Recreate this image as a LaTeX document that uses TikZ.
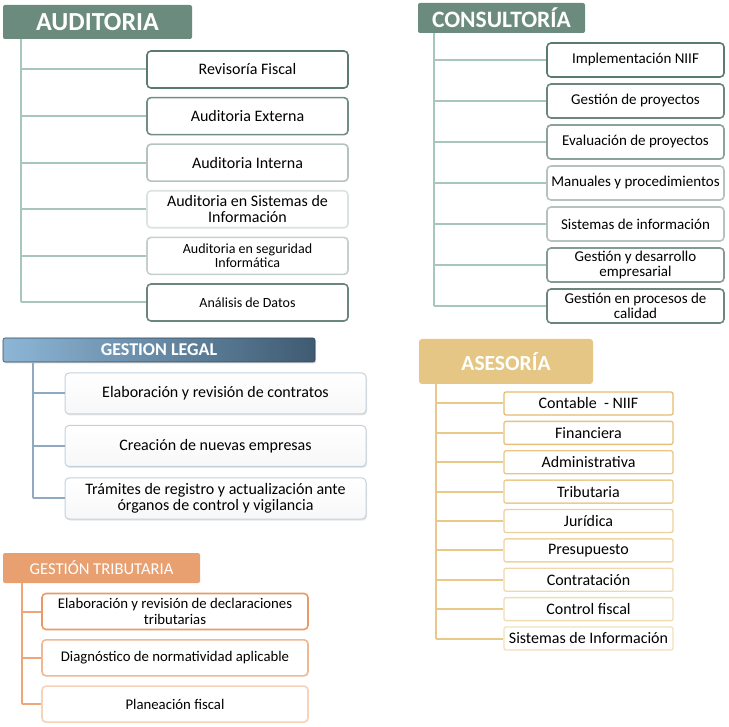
\documentclass[tikz,border=0pt]{standalone}
\usepackage{fontspec}
\setmainfont{Carlito}
\usetikzlibrary{shadows}
\definecolor{audhead}{HTML}{6B8B7F}
\definecolor{audline}{HTML}{A7C7BA}
\definecolor{audbox}{HTML}{5A7A6E}
\definecolor{legleft}{HTML}{8DB6D6}
\definecolor{legright}{HTML}{3F5B72}
\definecolor{legline}{HTML}{8FA9C1}
\definecolor{legbox}{HTML}{C3D1DE}
\definecolor{asehead}{HTML}{E5C684}
\definecolor{aseline}{HTML}{E8C98A}
\definecolor{asebox}{HTML}{E5BC70}
\definecolor{trihead}{HTML}{E9A070}
\definecolor{triline}{HTML}{EDA57A}
\definecolor{tribox}{HTML}{E99A66}
\tikzset{
  head/.style={rectangle, rounded corners=2pt, text=white, inner sep=0pt},
  item/.style={rectangle, rounded corners=4pt, line width=1.6pt, fill=white, align=center, inner sep=1pt, text=black},
  branch/.style={line width=2pt}
}
\begin{document}
\begin{tikzpicture}[x=1pt,y=-1pt]
\useasboundingbox (0,0) rectangle (729,727);
% auditoria
\node[head, fill=audhead, minimum width=189, minimum height=34, font=\fontsize{26}{26}\selectfont\bfseries] (hAud) at (97.5,22) {AUDITORIA};
\coordinate (vAud) at (21,39);
\foreach \t/\p/\s [count=\i] in {Revisoría Fiscal/100/16, Auditoria Externa/85/16, Auditoria Interna/45/16,
    Auditoria en Sistemas de\\Información/22/16, Auditoria en seguridad\\Informática/35/14, Análisis de Datos/90/14}{
  \node[item, draw=audbox!\p!white, minimum width=201, minimum height=37, font=\fontsize{\s}{\s}\selectfont] (aud\i) at (247.5,{69.5+(\i-1)*46.6}) {\t};
  \draw[branch, audline] (vAud |- aud\i.west) -- (aud\i.west);
}
\draw[branch, audline] (vAud) -- (vAud |- aud6.west);
% consultoria
\node[head, fill=audhead, minimum width=167, minimum height=30, font=\fontsize{23.5}{23.5}\selectfont\bfseries] (hCon) at (501.5,18) {CONSULTORÍA};
\coordinate (vCon) at (434,33);
\foreach \t/\p [count=\i] in {Implementación NIIF/100, Gestión de proyectos/90, Evaluación de proyectos/70,
    Manuales y procedimientos/45, Sistemas de información/45, Gestión y desarrollo\\empresarial/75, Gestión en procesos de\\calidad/90}{
  \node[item, draw=audbox!\p!white, minimum width=177, minimum height=34, font=\fontsize{15}{15.5}\selectfont] (con\i) at (635.5,{60+(\i-1)*41}) {\t};
  \draw[branch, audline] (vCon |- con\i.west) -- (con\i.west);
}
\draw[branch, audline] (vCon) -- (vCon |- con7.west);
% gestion legal
\node[head, left color=legleft, right color=legright, draw=legright!80!black, line width=0.6pt, drop shadow={opacity=0.3, shadow xshift=1pt, shadow yshift=-1.5pt},
  minimum width=312, minimum height=24, font=\fontsize{18}{18}\selectfont\bfseries] (hLeg) at (159,350) {GESTION LEGAL};
\coordinate (vLeg) at (33,362);
\foreach \t [count=\i] in {Elaboración y revisión de contratos, Creación de nuevas empresas,
    Trámites de registro y actualización ante\\órganos de control y vigilancia}{
  \node[item, draw=legbox, line width=1pt, top color=white, bottom color=gray!6, drop shadow={opacity=0.2, shadow xshift=1pt, shadow yshift=-1.5pt},
    minimum width=301, minimum height=41, font=\fontsize{16}{16.5}\selectfont] (leg\i) at (215.5,{393.5+(\i-1)*52.5}) {\t};
  \draw[branch, legline] (vLeg |- leg\i.west) -- (leg\i.west);
}
\draw[branch, legline] (vLeg) -- (vLeg |- leg3.west);
% asesoria
\node[head, fill=asehead, rounded corners=3pt, minimum width=174, minimum height=45, font=\fontsize{21.5}{21.5}\selectfont\bfseries] (hAse) at (506,361.5) {ASESORÍA};
\coordinate (vAse) at (436,384);
\foreach \t/\p [count=\i] in {Contable~~- NIIF/100, Financiera/92, Administrativa/85, Tributaria/78, Jurídica/70,
    Presupuesto/64, Contratación/58, Control fiscal/52, Sistemas de Información/48}{
  \node[item, draw=asebox!\p!white, line width=1.3pt, rounded corners=2pt, minimum width=169, minimum height=23, font=\fontsize{16}{16}\selectfont] (ase\i) at (588.5,{403.5+(\i-1)*29.375}) {\t};
  \draw[branch, aseline] (vAse |- ase\i.west) -- (ase\i.west);
}
\draw[branch, aseline] (vAse) -- (vAse |- ase9.west);
% gestion tributaria
\node[head, fill=trihead, minimum width=197, minimum height=30, font=\fontsize{16.6}{16.6}\selectfont] (hTri) at (101.5,568) {GESTIÓN TRIBUTARIA};
\coordinate (vTri) at (22,583);
\foreach \t/\p [count=\i] in {Elaboración y revisión de declaraciones\\tributarias/100, Diagnóstico de normatividad aplicable/70, Planeación fiscal/45}{
  \node[item, draw=tribox!\p!white, minimum width=266, minimum height=36, font=\fontsize{14.75}{15.5}\selectfont] (tri\i) at (175,{611.5+(\i-1)*46.3}) {\t};
  \draw[branch, triline] (vTri |- tri\i.west) -- (tri\i.west);
}
\draw[branch, triline] (vTri) -- (vTri |- tri3.west);
\end{tikzpicture}
\end{document}
